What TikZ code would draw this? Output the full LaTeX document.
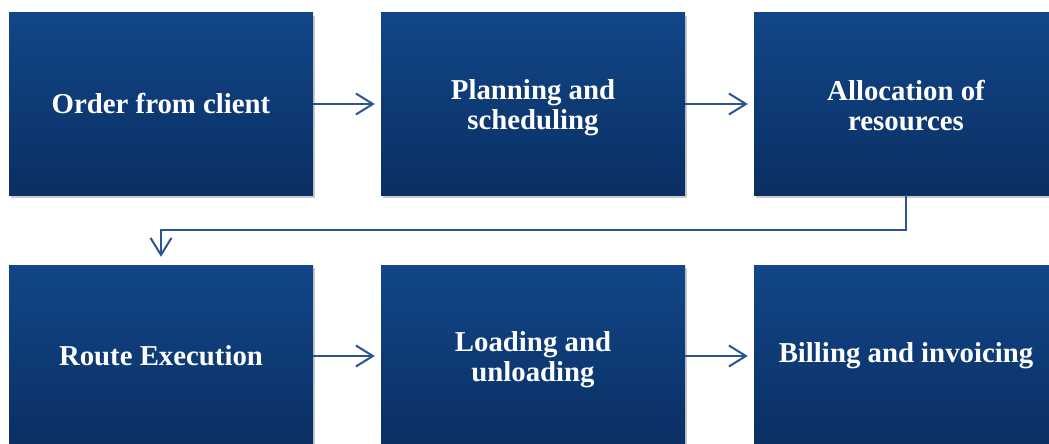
\documentclass[tikz,border=0pt]{standalone}
\usepackage{fontspec}
\setmainfont{Liberation Serif}
\usetikzlibrary{arrows.meta,shadows}
\definecolor{boxtop}{HTML}{124688}
\definecolor{boxbot}{HTML}{0A2F63}
\definecolor{linecol}{HTML}{2A5590}
\tikzset{
  stepbox/.style={rectangle, minimum width=304pt, minimum height=182pt, inner sep=0pt,
    top color=boxtop, bottom color=boxbot, draw=none, text=white, align=center,
    font=\bfseries\fontsize{28.8}{30}\selectfont,
    drop shadow={shadow xshift=1.5pt, shadow yshift=-3pt, opacity=0.2, fill=black}},
  lowtext/.style={text height=#1},
  flow/.style={draw=linecol, line width=2pt, -{Straight Barb[length=17pt,width=21pt,line width=2pt]}}
}
\begin{document}
\begin{tikzpicture}[x=1pt,y=-1pt]
\useasboundingbox (0,0) rectangle (1049,444);
\node[stepbox] (a) at (161,104) {Order from client};
\node[stepbox, lowtext=57pt] (b) at (533,104) {Planning and\\scheduling};
\node[stepbox, lowtext=53pt] (c) at (906,104) {Allocation of\\resources};
\node[stepbox] (d) at (161,356) {Route Execution};
\node[stepbox, lowtext=57pt] (e) at (533,356) {Loading and\\unloading};
\node[stepbox] (f) at (906,356) {Billing and invoicing};
\draw[flow, shorten >=6pt] (a.east) -- (b.west);
\draw[flow, shorten >=6pt] (b.east) -- (c.west);
\draw[flow, shorten >=6pt] (d.east) -- (e.west);
\draw[flow, shorten >=6pt] (e.east) -- (f.west);
\coordinate (k1) at (906,230);
\coordinate (k2) at (161,230);
\draw[flow, shorten >=8pt] (c.south) -- (k1) -- (k2) -- (d.north);
\end{tikzpicture}
\end{document}
